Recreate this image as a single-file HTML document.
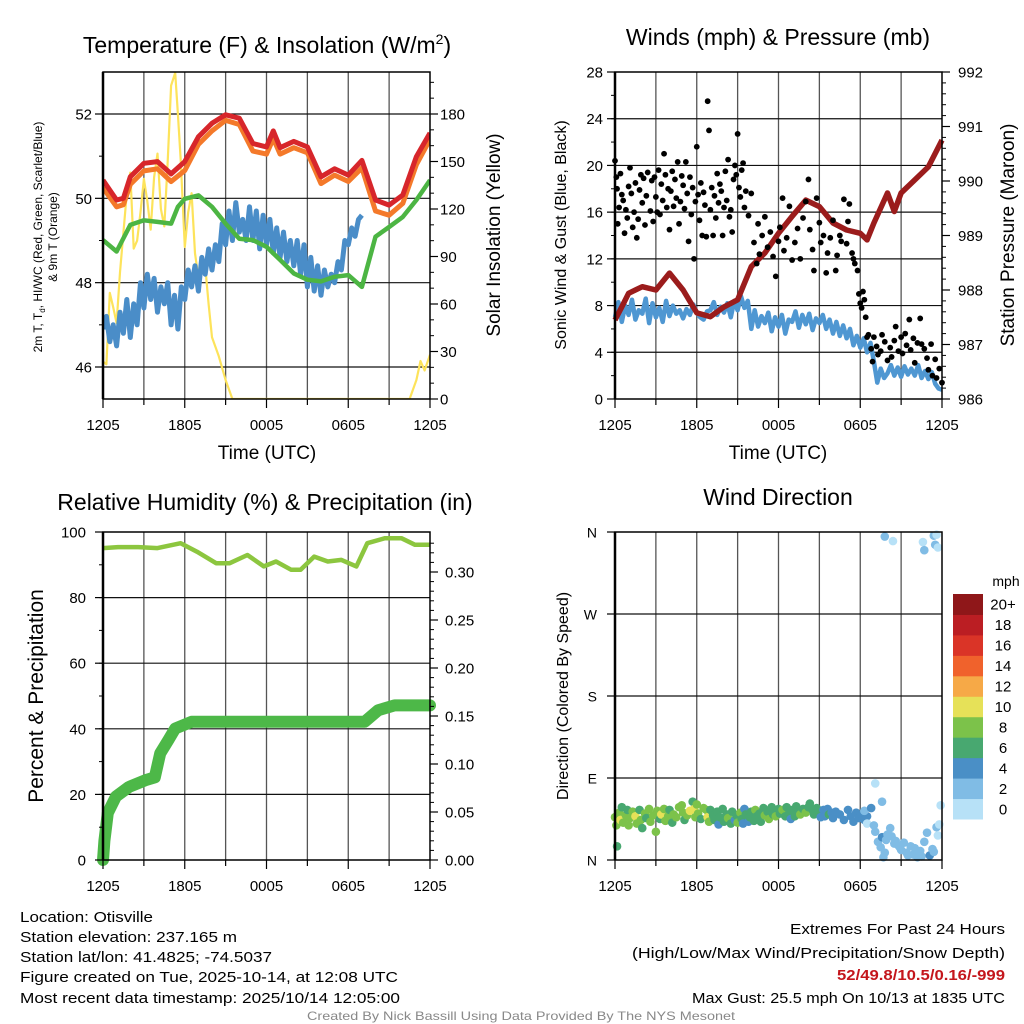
<!DOCTYPE html>
<html><head><meta charset="utf-8"><title>Mesonet Meteogram</title>
<style>
html,body{margin:0;padding:0;background:#fff;}
svg{display:block;font-family:"Liberation Sans",Arial,sans-serif;}
</style></head>
<body>
<svg id="fig" width="1024" height="1024" viewBox="0 0 1024 1024" xmlns="http://www.w3.org/2000/svg">
<rect x="0" y="0" width="1024" height="1024" fill="#fff"/>
<g id="p1"></g>
<g id="p2"></g>
<g id="p3"></g>
<g id="p4"></g>

<text x="267" y="53" font-size="23" text-anchor="middle">Temperature (F) &amp; Insolation (W/m<tspan font-size="14" dy="-9">2</tspan><tspan dy="9">)</tspan></text>
<text x="778" y="45" font-size="23" text-anchor="middle">Winds (mph) &amp; Pressure (mb)</text>
<text x="265" y="510" font-size="23" text-anchor="middle">Relative Humidity (%) &amp; Precipitation (in)</text>
<text x="778" y="505" font-size="23" text-anchor="middle">Wind Direction</text>

<text x="267" y="459" font-size="19" text-anchor="middle">Time (UTC)</text>
<text x="778" y="459" font-size="19" text-anchor="middle">Time (UTC)</text>

<text transform="translate(42,237) rotate(-90)" font-size="12" text-anchor="middle">2m T, T<tspan font-size="8" dy="3">d</tspan><tspan dy="-3">, HI/WC (Red, Green, Scarlet/Blue)</tspan></text>
<text transform="translate(57,237) rotate(-90)" font-size="12" text-anchor="middle">&amp; 9m T (Orange)</text>
<text transform="translate(500,235) rotate(-90)" font-size="19" text-anchor="middle">Solar Insolation (Yellow)</text>
<text transform="translate(566,235) rotate(-90)" font-size="16" text-anchor="middle">Sonic Wind &amp; Gust (Blue, Black)</text>
<text transform="translate(1014,235) rotate(-90)" font-size="19" text-anchor="middle">Station Pressure (Maroon)</text>
<text transform="translate(43,696) rotate(-90)" font-size="21" text-anchor="middle">Percent &amp; Precipitation</text>
<text transform="translate(568,696) rotate(-90)" font-size="16" text-anchor="middle">Direction (Colored By Speed)</text>

<g font-size="15">
<text x="20" y="922" textLength="133" lengthAdjust="spacingAndGlyphs">Location: Otisville</text>
<text x="20" y="942" textLength="217" lengthAdjust="spacingAndGlyphs">Station elevation: 237.165 m</text>
<text x="20" y="962" textLength="252" lengthAdjust="spacingAndGlyphs">Station lat/lon: 41.4825; -74.5037</text>
<text x="20" y="982" textLength="378" lengthAdjust="spacingAndGlyphs">Figure created on Tue, 2025-10-14, at 12:08 UTC</text>
<text x="20" y="1003" textLength="380" lengthAdjust="spacingAndGlyphs">Most recent data timestamp: 2025/10/14 12:05:00</text>
</g>
<g font-size="15">
<text x="790" y="934" textLength="215" lengthAdjust="spacingAndGlyphs">Extremes For Past 24 Hours</text>
<text x="632" y="958" textLength="373" lengthAdjust="spacingAndGlyphs">(High/Low/Max Wind/Precipitation/Snow Depth)</text>
<text x="837" y="980" fill="#c4161c" font-weight="bold" textLength="168" lengthAdjust="spacingAndGlyphs">52/49.8/10.5/0.16/-999</text>
<text x="692" y="1003" textLength="313" lengthAdjust="spacingAndGlyphs">Max Gust: 25.5 mph On 10/13 at 1835 UTC</text>
</g>
<text x="307" y="1020" font-size="12" fill="#888" textLength="428" lengthAdjust="spacingAndGlyphs">Created By Nick Bassill Using Data Provided By The NYS Mesonet</text>
</svg>
<script>
// ---------- DATA ----------
const timeLabels = ["1205","1805","0005","0605","1205"];
// Panel 1 (hours since 1205 UTC)
const tempHours = [0,1,1.5,2,3,4,5,6,7,8,9,10,11,12,12.5,13,14,15,16,17,18,19,20,21,22,23,24];
const tempRed   = [50.43,49.96,50.0,50.51,50.83,50.87,50.58,50.87,51.46,51.78,51.98,51.9,51.3,51.22,51.6,51.2,51.35,51.22,50.51,50.7,50.55,50.9,49.96,49.84,50.08,50.99,51.55];
const tempOrange= [50.25,49.8,49.85,50.33,50.65,50.7,50.4,50.66,51.28,51.6,51.85,51.75,51.12,51.05,51.42,51.05,51.2,51.08,50.35,50.55,50.4,50.72,49.7,49.6,49.88,50.8,51.4];
const dewHours = [0,1,2,3,4,5,5.5,6,7,8,9,10,11,12,13,14,15,16,17,18,19,20,21,22,23,24];
const dewpoint = [49.01,48.74,49.37,49.48,49.44,49.4,49.8,49.99,50.07,49.8,49.4,49.04,49.01,48.85,48.54,48.22,48.07,48.03,48.14,48.18,47.9,49.09,49.32,49.56,49.96,50.43];
const windChill = [46.9,47.2,46.6,47.0, 46.5,47.3,46.8,47.6, 46.7,47.5,47.0,48.0, 47.4,48.2,47.6,48.1, 47.3,47.9,47.5,48.0, 47.0,47.7,46.9,47.9, 47.6,48.3,47.9,48.4, 47.8,48.6,48.2,48.8, 48.3,48.9,48.5,49.4, 48.9,49.7,49.0,49.9, 49.2,49.5,49.0,49.8, 49.0,49.7,48.8,49.6, 48.9,49.5,48.7,49.3, 48.6,49.2,48.5,49.0, 48.4,49.0,48.2,48.9, 47.9,48.6,47.8,48.4, 47.7,48.3,47.9,48.2, 48.0,48.5,48.3,49.0, 48.9,49.3,49.1,49.5, 49.6];
const solarHours = [0,0.25,0.5,0.75,1,1.25,1.5,1.75,2,2.25,2.5,2.75,3,3.25,3.5,3.75,4,4.25,4.5,4.75,5,5.3,5.5,5.7,6,6.25,6.5,6.75,7,7.25,7.5,7.75,8,8.5,9,9.5,22.5,23,23.3,23.6,24];
const solar      = [23.6,22,67,58,48,80,105,130,143,95,100,118,139,125,107,140,155,120,109,150,198,206,180,151,96,118,130,92,77,80,84,60,39,27,12,0,0,12,24,18,28];
// Panel 2
const pressHours = [0,0.5,1,2,3,4,5,6,7,8,9,10,11,12,13,14,15,16,17,18,18.5,19,20,20.5,21,22,23,24];
const pressure   = [987.45,987.69,987.94,988.06,988.0,988.31,988.0,987.58,987.51,987.69,987.82,988.43,988.68,989.04,989.35,989.65,989.53,989.23,989.1,989.04,988.92,989.23,989.78,989.44,989.78,990.02,990.26,990.75];
const sonicWind = [7.0,8.3,6.6,8.0, 7.2,8.5,6.8,7.6, 7.3,8.6,6.5,8.2, 7.0,7.8,6.6,8.4, 7.1,8.0,7.3,7.6, 6.9,7.7,7.2,8.1, 7.4,7.0,6.8,7.5, 7.6,8.3,7.2,7.9, 7.4,8.2,7.0,8.4, 7.6,8.8,7.8,8.4, 6.0,7.6,6.2,7.1, 6.5,7.4,5.8,7.0, 6.2,7.2,5.6,6.8, 6.6,7.5,6.1,7.2, 6.4,7.3,5.9,6.9, 6.5,7.2,6.0,6.8, 5.6,6.6,5.4,6.3, 5.2,6.0,4.6,5.4, 4.4,5.2,4.0,4.8, 3.2,1.4,2.6,1.8, 2.2,2.9,2.0,2.7, 1.9,2.8,2.1,2.6, 2.0,2.9,1.8,2.4, 1.7,2.3,1.3,0.9, 0.8];
const gustHours = [0.0,0.1,0.15,0.2,0.3,0.4,0.5,0.6,0.7,0.8,0.9,1.0,1.1,1.2,1.3,1.4,1.5,1.6,1.7,1.8,1.9,2.0,2.1,2.2,2.3,2.4,2.6,2.7,2.8,2.9,3.0,3.1,3.2,3.3,3.4,3.5,3.6,3.7,3.8,3.9,4.0,4.1,4.2,4.3,4.4,4.5,4.6,4.7,4.8,4.9,5.0,5.1,5.2,5.3,5.4,5.5,5.6,5.7,5.8,5.9,6.0,6.1,6.2,6.3,6.4,6.5,6.6,6.7,6.8,6.9,7.0,7.1,7.2,7.3,7.4,7.5,7.6,7.7,7.8,7.9,8.0,8.1,8.2,8.3,8.4,8.5,8.6,8.7,8.8,8.9,9.0,9.1,9.2,9.3,9.4,9.5,9.6,9.8,10.0,10.2,10.4,10.5,10.6,10.8,11.0,11.2,11.4,11.6,11.8,12.0,12.1,12.3,12.4,12.6,12.8,13.0,13.2,13.4,13.6,13.8,14.0,14.2,14.3,14.5,14.6,14.8,15.0,15.1,15.3,15.5,15.6,15.8,16.0,16.2,16.3,16.5,16.6,16.8,17.0,17.1,17.2,17.4,17.5,17.6,17.8,17.9,18.0,18.1,18.2,18.3,18.4,18.5,18.6,18.8,18.9,19.0,19.2,19.3,19.5,19.6,19.8,20.0,20.2,20.3,20.5,20.6,20.8,21.0,21.1,21.3,21.4,21.6,21.7,21.9,22.0,22.2,22.4,22.5,22.7,22.9,23.0,23.2,23.3,23.5,23.6,23.8,24.0];
const gustSpeed = [20.4,19,18,15,16.4,19.3,17.5,17,14.2,16.2,15.5,18.2,19.8,17.6,14.7,16,18.5,13.8,15.4,17.9,19.2,16.8,18.9,14.9,17.4,19.4,16.1,18.7,15.2,19.0,17.3,16.0,19.6,15.8,18.4,17.0,21.0,19.2,16.4,18.0,14.5,17.8,19.5,16.5,18.8,17.2,20.3,15.0,16.9,19.1,18.3,16.3,20.3,17.6,13.5,19.0,15.8,18.1,12.0,16.9,21.6,17.5,15.3,18.5,14.0,17.7,16.6,13.9,25.5,23.0,16.2,18.1,14.0,17.4,15.5,19.3,16.8,18.4,17.8,14.0,16.4,19.5,17.0,20.5,15.6,16.2,14.3,18.8,20.0,19.2,22.7,18.1,17.3,19.6,20.2,16.4,17.8,15.7,17.6,13.4,11.6,15.0,12.4,14.0,15.6,13.0,14.3,12.2,10.5,13.5,14.7,17.2,12.7,13.8,16.5,11.9,13.4,14.6,12.0,15.5,16.9,18.8,14.5,12.8,11.0,17.2,15.1,13.4,14.0,10.8,12.5,13.8,15.3,11.0,12.3,14.0,13.5,17.1,13.3,15.2,16.7,12.5,12.0,11.6,11.0,9.0,8.2,7.8,9.2,8.5,7.0,5.3,5.5,4.3,3.2,5.3,4.5,3.8,4.1,5.5,4.9,3.3,4.4,3.6,5.0,6.2,4.1,5.3,3.9,5.6,4.6,6.8,4.2,5.2,3.1,4.8,6.9,4.7,4.3,3.5,2.5,4.7,2.0,3.4,1.8,2.6,1.4];
// Panel 3
const rhHours = [0,1.1,2.6,4.0,5.7,6.9,8.3,9.3,10.6,11.8,12.7,13.8,14.5,15.5,16.5,17.5,18.6,19.4,20.7,21.9,22.9,23.7,24];
const rhValues = [95.1,95.4,95.4,95.1,96.6,94.0,90.5,90.5,93.0,89.5,91.0,88.5,88.5,92.5,91.0,91.5,89.5,96.6,98.1,98.1,96.1,96.1,96.1];
const precipHours = [0,0.1,0.35,0.95,1.9,3.1,3.8,4.2,4.8,5.3,6.5,19.2,20.2,21.4,24];
const precipValues = [0,0.02,0.049,0.066,0.076,0.083,0.086,0.111,0.125,0.137,0.144,0.144,0.156,0.161,0.161];
// Panel 4
const dirHours = [0.0,0.1,0.15,0.3,0.4,0.5,0.6,0.8,0.9,1.0,1.1,1.3,1.5,1.6,1.8,1.9,2.0,2.2,2.3,2.5,2.6,2.8,3.0,3.1,3.3,3.4,3.6,3.7,3.9,4.0,4.2,4.3,4.5,4.7,4.9,5.0,5.1,5.3,5.5,5.7,5.8,5.9,6.0,6.1,6.3,6.5,6.7,6.8,6.9,7.0,7.2,7.3,7.5,7.6,7.7,7.9,8.0,8.2,8.3,8.5,8.6,8.8,8.9,9.0,9.2,9.3,9.4,9.5,9.6,9.8,9.9,10.0,10.2,10.3,10.4,10.6,10.7,10.9,11.0,11.2,11.3,11.5,11.6,11.8,12.0,12.1,12.3,12.5,12.6,12.8,12.9,13.0,13.2,13.3,13.5,13.6,13.8,14.0,14.2,14.3,14.5,14.6,14.8,15.0,15.1,15.3,15.4,15.6,15.7,15.9,16.0,16.2,16.5,16.8,17.1,17.3,17.5,17.7,17.9,18.1,18.3,18.5,18.3,18.5,18.8,19.0,19.1,19.3,19.5,19.6,19.8,19.9,20.0,20.2,20.3,20.5,20.6,20.8,20.9,21.0,21.2,21.4,21.5,21.7,21.9,22.0,22.2,22.4,22.5,22.7,22.9,23.1,23.3,23.4,23.6,23.7,23.8,23.9,19.1,19.6,19.7,19.8,20.4,22.6,22.7,23.4,23.5,23.6,23.7];
const dirDegrees = [47,38,15,52,44,58,41,49,55,38,46,53,48,40,55,44,35,51,46,56,42,49,31,54,45,50,56,43,48,55,41,50,47,58,60,52,44,49,54,64,56,47,61,51,45,57,55,47,42,55,49,44,53,39,47,56,42,50,46,40,53,44,49,41,52,45,40,56,50,42,47,53,43,55,48,51,42,57,49,53,45,58,50,48,56,51,55,48,58,52,45,55,48,59,53,50,56,52,58,62,55,50,57,53,47,55,48,56,50,52,46,53,50,44,55,48,42,52,46,50,44,48,54,40,57,38,31,20,14,25,8,22,28,35,26,18,21,16,14,11,19,8,5,15,6,13,3,10,4,20,30,5,12,9,36,27,39,60,84,64,3,355,350,349,340,356,346,357,343,322,352];
const dirSpeed = [8,8,6,8,10,6,8,8,6,8,8,8,10,8,6,8,6,8,6,8,8,8,8,8,6,10,8,8,8,6,6,8,8,8,8,8,6,8,10,6,10,8,8,8,6,8,8,10,8,6,6,6,6,4,6,6,6,6,8,6,6,4,6,8,8,6,4,4,6,4,6,6,6,8,6,6,6,6,8,6,8,6,6,8,6,6,8,6,6,6,4,6,6,6,6,8,6,8,6,6,6,6,6,6,4,4,4,4,6,4,4,4,4,4,4,4,4,4,4,4,4,4,2,0,4,2,2,2,2,4,2,2,2,2,2,2,2,2,2,2,2,2,2,2,2,2,2,2,2,2,2,4,2,2,2,0,0,0,0,2,2,2,0,0,2,2,2,0,0,2];
const speedBinLabels = ["0","2","4","6","8","10","12","14","16","18","20+"];
const speedBinColors = ["#b7e1f7","#80bce5","#4a8fc6","#48a870","#7cc24a","#e6e158","#f6a947","#f0622c","#da3427","#bb1e23","#8f1719"];

// ---------- HELPERS ----------
const NS = "http://www.w3.org/2000/svg";
function mk(parent, tag, attrs){ const e=document.createElementNS(NS,tag); for(const k in attrs) e.setAttribute(k,attrs[k]); parent.appendChild(e); return e; }
function lin(d0,d1,r0,r1){ return v => r0 + (v-d0)*(r1-r0)/(d1-d0); }
function pathD(xs, ys, fx, fy){ return xs.map((x,i)=>(i?"L":"M")+fx(x).toFixed(1)+","+fy(ys[i]).toFixed(1)).join(""); }
function seq(n, step){ const a=[]; for(let i=0;i<n;i++) a.push(i*step); return a; }

function frame(g, L, T, R, B, xs, hGridYs){
  for(let h=3; h<24; h+=3){
    const x = xs(h);
    const gl = mk(g,"line",{x1:x,y1:T,x2:x,y2:B,stroke:"#555","stroke-width":1.3});
    
    
  }
  hGridYs.forEach(y=>{
    const gl = mk(g,"line",{x1:L,y1:y,x2:R,y2:y,stroke:"#111","stroke-width":1.2});
    
    
  });
}
function border(g,L,T,R,B){
  const r = mk(g,"rect",{x:L,y:T,width:R-L,height:B-T,fill:"none",stroke:"#000","stroke-width":1.5});
  
  
  mk(g,"line",{x1:L,y1:T,x2:L,y2:B,stroke:"#000","stroke-width":2.5});
}
function xAxis(g, xs, B, withLabels){
  for(let h=0; h<=24; h+=3){
    const x = xs(h);
    mk(g,"line",{x1:x,y1:B,x2:x,y2:B+(h%6===0?9:6),stroke:"#000","stroke-width":1.2});
  }
  if(withLabels){
    timeLabels.forEach((lab,i)=>{
      const t = mk(g,"text",{x:xs(i*6),y:B+31,"font-size":15,"text-anchor":"middle"});
      
      
      t.textContent = lab;
    });
  }
}
function yTicks(g, side, axisX, ys, majors, minors, labels, labelX, anchor, fs){
  const dir = side==="left" ? -1 : 1;
  minors.forEach(v=>{ mk(g,"line",{x1:axisX,y1:ys(v),x2:axisX+dir*4,y2:ys(v),stroke:"#000","stroke-width":1}); });
  majors.forEach((v,i)=>{
    mk(g,"line",{x1:axisX,y1:ys(v),x2:axisX+dir*8,y2:ys(v),stroke:"#000","stroke-width":1.2});
    const t = mk(g,"text",{x:labelX,y:ys(v)+5.5,"font-size":fs||15,"text-anchor":anchor});
    
    
    t.textContent = labels[i];
  });
}
function range(a,b,s){ const r=[]; for(let v=a; v<=b+1e-9; v+=s) r.push(+v.toFixed(4)); return r; }

// ---------- PANEL 1 ----------
(function(){
  const g = document.getElementById("p1");
  const L=103,T=72,R=430,B=399;
  const xs = lin(0,24,L,R);
  const yT = lin(46,52,367,114);
  const yS = lin(0,180,399,114);
  frame(g,L,T,R,B,xs,[46,48,50,52].map(yT));
  const cp=mk(g,"clipPath",{id:"c1"}); mk(cp,"rect",{x:L,y:T-12,width:R-L,height:B-T+12});
  const plot = mk(g,"g",{"clip-path":"url(#c1)"});
  const ys = mk(plot,"path",{d:pathD(solarHours,solar,xs,yS),fill:"none",stroke:"#fde35b","stroke-width":2.2,"stroke-linejoin":"round"});
   
  const bl = mk(plot,"path",{d:pathD(seq(windChill.length,0.25),windChill,xs,yT),fill:"none",stroke:"#4a8dc8","stroke-width":5,"stroke-linejoin":"round"});
   
  const gr = mk(plot,"path",{d:pathD(dewHours,dewpoint,xs,yT),fill:"none",stroke:"#4cb543","stroke-width":4.5,"stroke-linejoin":"round"});
   
  const or = mk(plot,"path",{d:pathD(tempHours,tempOrange,xs,yT),fill:"none",stroke:"#f4792a","stroke-width":5,"stroke-linejoin":"round"});
   
  const rd = mk(plot,"path",{d:pathD(tempHours,tempRed,xs,yT),fill:"none",stroke:"#d7262b","stroke-width":5,"stroke-linejoin":"round"});
   
  border(g,L,T,R,B);
  xAxis(g,xs,B,true);
  yTicks(g,"left",L,yT,[46,48,50,52],[47,49,51],["46","48","50","52"],92,"end");
  yTicks(g,"right",R,yS,range(0,180,30),range(0,200,10),["0","30","60","90","120","150","180"],440,"start");
})();

// ---------- PANEL 2 ----------
(function(){
  const g = document.getElementById("p2");
  const L=615,T=72,R=942,B=399;
  const xs = lin(0,24,L,R);
  const yW = lin(0,28,399,72);
  const yP = lin(986,992,399,72);
  frame(g,L,T,R,B,xs,[4,8,12,16,20,24].map(yW));
  const cp=mk(g,"clipPath",{id:"c2"}); mk(cp,"rect",{x:L-4,y:T,width:R-L+8,height:B-T+4});
  const plot = mk(g,"g",{"clip-path":"url(#c2)"});
  const bl = mk(plot,"path",{d:pathD(seq(sonicWind.length,0.25),sonicWind,xs,yW),fill:"none",stroke:"#4f97d2","stroke-width":4.5,"stroke-linejoin":"round"});
   
  const pr = mk(plot,"path",{d:pathD(pressHours,pressure,xs,yP),fill:"none",stroke:"#9b1c1c","stroke-width":5.5,"stroke-linejoin":"round"});
   
  gustHours.forEach((h,i)=>{
    const c = mk(plot,"circle",{cx:xs(h),cy:yW(gustSpeed[i]),r:2.9,fill:"#000"});
    
    
  });
  border(g,L,T,R,B);
  xAxis(g,xs,B,true);
  yTicks(g,"left",L,yW,range(0,28,4),range(0,28,2),["0","4","8","12","16","20","24","28"],603,"end");
  yTicks(g,"right",R,yP,range(986,992,1),range(986,992,0.2),["986","987","988","989","990","991","992"],958,"start");
})();

// ---------- PANEL 3 ----------
(function(){
  const g = document.getElementById("p3");
  const L=103,T=532,R=430,B=860;
  const xs = lin(0,24,L,R);
  const yR = lin(0,100,860,532);
  const yPr = lin(0,0.30,860,572);
  frame(g,L,T,R,B,xs,[20,40,60,80].map(yR));
  const plot = mk(g,"g",{});
  const rh = mk(plot,"path",{d:pathD(rhHours,rhValues,xs,yR),fill:"none",stroke:"#8cc63f","stroke-width":4.5,"stroke-linejoin":"round"});
   
  const pc = mk(plot,"path",{d:pathD(precipHours,precipValues,xs,yPr),fill:"none",stroke:"#4db848","stroke-width":12,"stroke-linejoin":"round","stroke-linecap":"round"});
   
  border(g,L,T,R,B);
  xAxis(g,xs,B,true);
  yTicks(g,"left",L,yR,range(0,100,20),range(0,100,10),["0","20","40","60","80","100"],86,"end");
  yTicks(g,"right",R,yPr,range(0,0.30,0.05),range(0,0.33,0.01),["0.00","0.05","0.10","0.15","0.20","0.25","0.30"],445,"start");
})();

// ---------- PANEL 4 ----------
(function(){
  const g = document.getElementById("p4");
  const L=615,T=532,R=942,B=860;
  const xs = lin(0,24,L,R);
  const yD = lin(0,360,860,532);
  frame(g,L,T,R,B,xs,[90,180,270].map(yD));
  const plot = mk(g,"g",{});
  dirHours.forEach((h,i)=>{
    const bin = Math.min(10, Math.round(dirSpeed[i]/2));
    const c = mk(plot,"circle",{cx:xs(h),cy:yD(dirDegrees[i]),r:4.3,fill:speedBinColors[bin]});
    
    
  });
  border(g,L,T,R,B);
  xAxis(g,xs,B,true);
  yTicks(g,"left",L,yD,[0,90,180,270,360],[],["N","E","S","W","N"],597,"end",14);
  const cb = mk(g,"g",{});
  
  
  const cbTop=594, cbBot=819, n=speedBinColors.length, h=(cbBot-cbTop)/n;
  for(let i=0;i<n;i++){
    const y = cbBot-(i+1)*h;
    const r = mk(cb,"rect",{x:953,y:y,width:30,height:h+0.5,fill:speedBinColors[i]});
    
    
    const t = mk(cb,"text",{x:1003,y:y+h/2+5.5,"font-size":15,"text-anchor":"middle"});
    
    
    t.textContent = speedBinLabels[i];
  }
  const u = mk(cb,"text",{x:1006,y:586,"font-size":14,"text-anchor":"middle"});
  
  
  u.textContent = "mph";
})();
</script>
</body></html>
